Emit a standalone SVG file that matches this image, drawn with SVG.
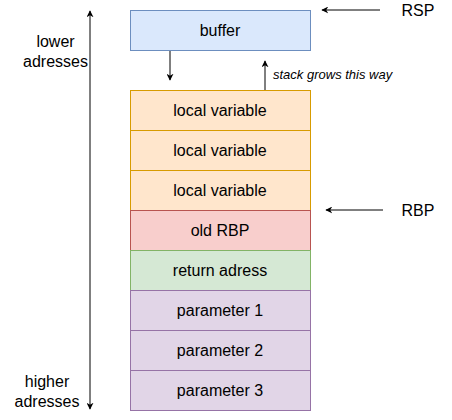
<svg xmlns="http://www.w3.org/2000/svg" width="452" height="420" viewBox="0 0 452 420">
<style>
text{font-family:"Liberation Sans",Arial,sans-serif;font-size:16px;fill:#000;}
.c{text-anchor:middle;dominant-baseline:central;}
.ln{stroke:#000;stroke-width:1;fill:none;}
.blue{fill:#dae8fc;stroke:#6c8ebf;}
.org{fill:#ffe6cc;stroke:#d79b00;}
.red{fill:#f8cecc;stroke:#b85450;}
.grn{fill:#d5e8d4;stroke:#82b366;}
.pur{fill:#e1d5e7;stroke:#9673a6;}
</style>
<defs>
<marker id="ah" viewBox="0 0 10 10" refX="9" refY="5" markerWidth="7" markerHeight="7" orient="auto-start-reverse" markerUnits="userSpaceOnUse">
<path d="M0,0 L10,5 L0,10 L3,5 Z" fill="#000"/>
</marker>
</defs>
<g id="connectors">
<line class="ln" x1="90" y1="409" x2="90" y2="11" marker-start="url(#ah)" marker-end="url(#ah)"/>
<line class="ln" x1="170" y1="51" x2="170" y2="80" marker-end="url(#ah)"/>
<line class="ln" x1="265" y1="90" x2="265" y2="61" marker-end="url(#ah)"/>
<line class="ln" x1="380" y1="10" x2="322" y2="10" marker-end="url(#ah)"/>
<line class="ln" x1="383" y1="210" x2="326" y2="210" marker-end="url(#ah)"/>
</g>
<g id="buffer"><rect class="blue" x="130.5" y="10.5" width="180" height="40"/><text class="c" x="220" y="30">buffer</text></g>
<g id="local1"><rect class="org" x="130.5" y="90.5" width="180" height="40"/><text class="c" x="220" y="110">local variable</text></g>
<g id="local2"><rect class="org" x="130.5" y="130.5" width="180" height="40"/><text class="c" x="220" y="150">local variable</text></g>
<g id="local3"><rect class="org" x="130.5" y="170.5" width="180" height="40"/><text class="c" x="220" y="190">local variable</text></g>
<g id="oldrbp"><rect class="red" x="130.5" y="210.5" width="180" height="40"/><text class="c" x="220" y="230">old RBP</text></g>
<g id="ret"><rect class="grn" x="130.5" y="250.5" width="180" height="40"/><text class="c" x="220" y="270">return adress</text></g>
<g id="p1"><rect class="pur" x="130.5" y="290.5" width="180" height="40"/><text class="c" x="220" y="310">parameter 1</text></g>
<g id="p2"><rect class="pur" x="130.5" y="330.5" width="180" height="40"/><text class="c" x="220" y="350">parameter 2</text></g>
<g id="p3"><rect class="pur" x="130.5" y="370.5" width="180" height="40"/><text class="c" x="220" y="390">parameter 3</text></g>
<g id="labels">
<text x="273" y="79" style="font-size:13px;font-style:italic">stack grows this way</text>
<text class="c" x="418" y="10">RSP</text>
<text class="c" x="418" y="210">RBP</text>
<text class="c" x="55.5" y="41">lower</text>
<text class="c" x="55.5" y="61">adresses</text>
<text class="c" x="47" y="381">higher</text>
<text class="c" x="47" y="401">adresses</text>
</g>
</svg>
